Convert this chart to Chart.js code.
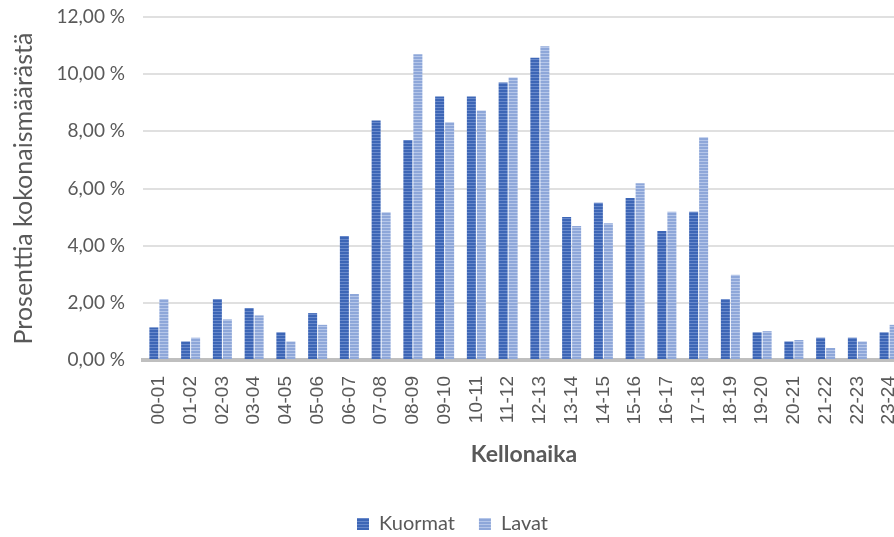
<!DOCTYPE html>
<html>
<head>
<meta charset="utf-8">
<script src="https://cdn.jsdelivr.net/npm/chart.js@4/dist/chart.umd.min.js"></script>
<style>
  html, body { margin: 0; padding: 0; background: #ffffff; overflow: hidden; }
  #wrap { width: 894px; height: 537px; overflow: hidden; }
  canvas { display: block; }
</style>
</head>
<body>
<div id="wrap"><canvas id="chart" width="914" height="537"></canvas></div>
<script>
// Hour-of-day intervals
const categories = ['00-01', '01-02', '02-03', '03-04', '04-05', '05-06', '06-07', '07-08',
  '08-09', '09-10', '10-11', '11-12', '12-13', '13-14', '14-15', '15-16',
  '16-17', '17-18', '18-19', '19-20', '20-21', '21-22', '22-23', '23-24'];

// Share of the daily total (%) per hour
const kuormat = [1.14, 0.65, 2.13, 1.82, 0.97, 1.64, 4.34, 8.38, 7.70, 9.22, 9.22, 9.71,
  10.57, 5.00, 5.50, 5.67, 4.51, 5.19, 2.13, 0.97, 0.65, 0.78, 0.78, 0.97];
const lavat = [2.13, 0.78, 1.42, 1.56, 0.65, 1.23, 2.31, 5.17, 10.70, 8.32, 8.73, 9.88,
  10.98, 4.69, 4.78, 6.18, 5.19, 7.79, 2.98, 1.01, 0.70, 0.42, 0.65, 1.23];

const seriesNames = ['Kuormat', 'Lavat'];
const yTitle = 'Prosenttia kokonaismäärästä';
const xTitle = 'Kellonaika';

// Horizontal-stripe fill used for the bars
function stripes(base, line) {
  const c = document.createElement('canvas');
  c.width = 4; c.height = 3;
  const g = c.getContext('2d');
  g.fillStyle = base; g.fillRect(0, 0, 4, 3);
  g.fillStyle = line; g.fillRect(0, 2, 4, 1);
  return g.createPattern(c, 'repeat');
}
const darkFill = stripes('#3d66b6', '#6889cb');
const lightFill = stripes('#8ea7d9', '#b5c6e9');

const grey = '#595959';
const fmtPct = v => v.toFixed(2).replace('.', ',') + ' %';

new Chart(document.getElementById('chart'), {
  type: 'bar',
  data: {
    labels: categories,
    datasets: [
      { label: seriesNames[0], data: kuormat, backgroundColor: darkFill, borderWidth: 0,
        categoryPercentage: 0.63, barPercentage: 0.9 },
      { label: seriesNames[1], data: lavat, backgroundColor: lightFill, borderWidth: 0,
        categoryPercentage: 0.63, barPercentage: 0.9 }
    ]
  },
  options: {
    responsive: false,
    devicePixelRatio: 1,
    animation: false,
    layout: { padding: { top: 17, right: 9, left: 0, bottom: -7 } },
    plugins: {
      tooltip: { enabled: false },
      legend: {
        position: 'bottom',
        labels: {
          color: grey,
          font: { family: 'Lato', size: 20 },
          boxWidth: 12, boxHeight: 12,
          padding: 24
        }
      }
    },
    scales: {
      x: {
        grid: { display: false, drawTicks: false },
        border: { display: true, color: '#bfbfbf', width: 4 },
        ticks: {
          color: grey,
          font: { family: 'Liberation Sans', size: 19 },
          minRotation: 90, maxRotation: 90,
          padding: 16,
          autoSkip: false
        },
        title: {
          display: true, text: xTitle, color: grey,
          font: { family: 'Lato', size: 23, weight: 'bold' },
          padding: { top: 0, bottom: 22 }
        },
        afterFit: s => { s.height = 130; s.paddingLeft = 0; s.paddingRight = 0; }
      },
      y: {
        min: 0, max: 12,
        grid: { color: '#e0e0e0', lineWidth: 2, drawTicks: false },
        border: { display: false },
        ticks: {
          stepSize: 2, color: grey,
          font: { family: 'Lato', size: 19 },
          padding: 18,
          callback: v => fmtPct(v)
        },
        title: {
          display: true, text: yTitle, color: grey,
          font: { family: 'Lato', size: 25 },
          padding: { top: 9, bottom: 0 }
        },
        afterFit: s => { s.width = 143; s.paddingTop = 0; s.paddingBottom = 0; }
      }
    }
  }
});
</script>
</body>
</html>
